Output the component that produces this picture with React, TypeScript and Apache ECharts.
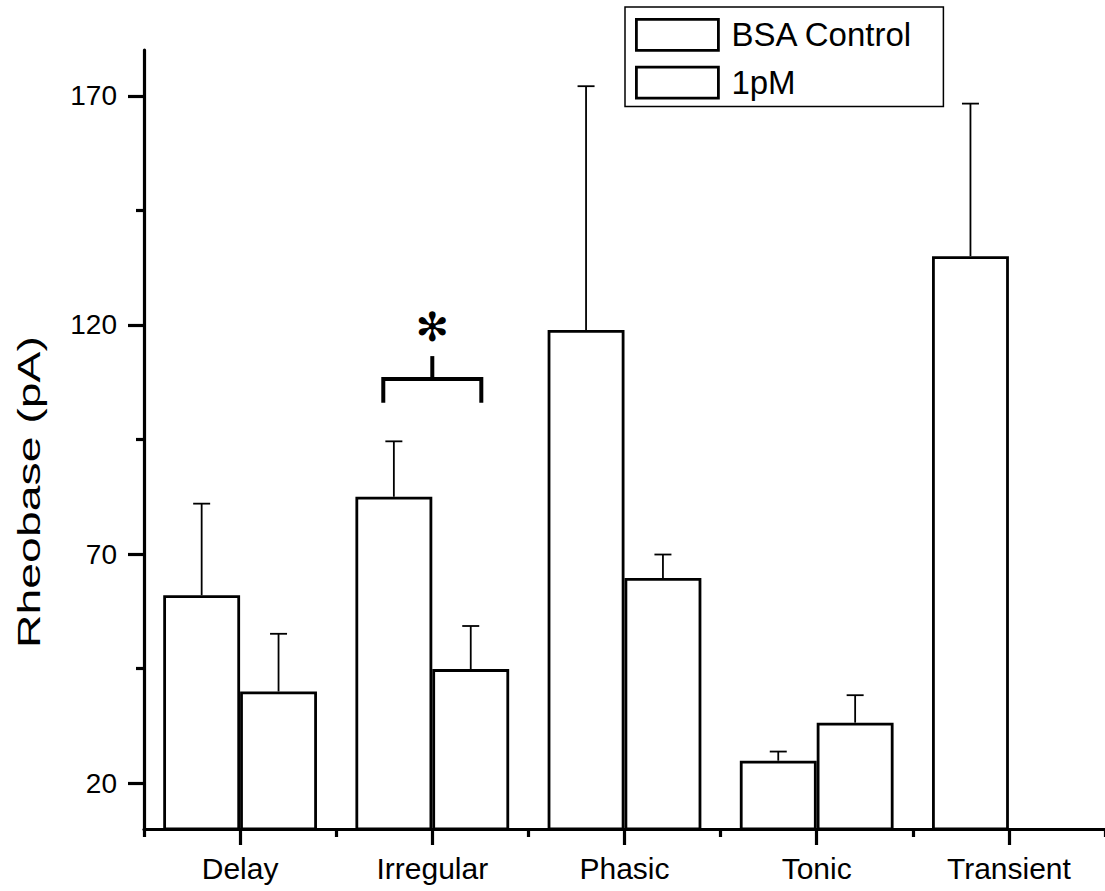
import React, { useEffect, useRef } from "react";
import * as echarts from "echarts";

// Firing-pattern categories and rheobase values (mean and upper SEM)
const categories = ["Delay", "Irregular", "Phasic", "Tonic", "Transient"];
const controlMean = [61.0, 82.5, 118.9, 24.9, 135.0];
const controlErr = [20.0, 12.1, 53.2, 2.0, 33.3];
const pmMean: (number | null)[] = [40.0, 44.9, 64.8, 33.2, null];
const pmErr: (number | null)[] = [12.6, 9.4, 5.1, 6.0, null];

// Axis ticks
const yMajorTicks = [20, 70, 120, 170];
const yMinorTicks = [45, 95, 145];

// Significance bracket over Irregular: leg bottom, bracket bar, stem top, star
const sigCategory = 1;
const sigLevels = [103, 108.2, 113.2, 119.6];

const FONT = "'Liberation Sans', Arial, Helvetica, sans-serif";

function errorSeries(name: string, means: (number | null)[], errs: (number | null)[], offset: number) {
  const data: number[][] = [];
  means.forEach((m, i) => {
    const e = errs[i];
    if (m != null && e != null) data.push([i, m, m + e]);
  });
  return {
    type: "custom",
    name,
    xAxisIndex: 0,
    yAxisIndex: 0,
    z: 5,
    encode: { x: 0, y: [1, 2] },
    data,
    renderItem: (params: any, api: any) => {
      const band = api.size([1, 0])[0];
      const base = api.coord([api.value(0), api.value(1)]);
      const top = api.coord([api.value(0), api.value(2)]);
      const x = base[0] + offset * band;
      const style = { stroke: "#000", lineWidth: 1.8 };
      return {
        type: "group",
        children: [
          { type: "line", shape: { x1: x, y1: base[1], x2: x, y2: top[1] }, style },
          { type: "line", shape: { x1: x - 8.5, y1: top[1], x2: x + 8.5, y2: top[1] }, style },
        ],
      };
    },
  };
}

export default function App() {
  const ref = useRef<HTMLDivElement>(null);

  useEffect(() => {
    if (!ref.current) return;
    const chart = echarts.init(ref.current, null, { renderer: "svg" });

    const axisLineStyle = { color: "#000", width: 3.2 };

    chart.setOption({
      animation: false,
      backgroundColor: "#fff",
      grid: { left: 144, top: 50, width: 962, height: 779, containLabel: false },
      legend: {
        data: ["BSA Control", "1pM"],
        orient: "vertical",
        left: 625,
        top: 7,
        icon: "rect",
        itemWidth: 82,
        itemHeight: 31,
        itemGap: 14,
        padding: [11, 12, 7, 10],
        borderColor: "#000",
        borderWidth: 1.5,
        itemStyle: { borderWidth: 2.8, borderColor: "#000", color: "#fff" },
        textStyle: {
          fontSize: 33,
          color: "#000",
          fontFamily: FONT,
          lineHeight: 31,
          padding: [0, 0, 0, 8],
          width: 200,
        },
      },
      xAxis: [
        {
          type: "category",
          data: categories,
          position: "bottom",
          axisLine: { show: true, lineStyle: axisLineStyle },
          axisTick: { show: true, alignWithLabel: true, length: 16, lineStyle: axisLineStyle },
          axisLabel: { fontSize: 30, color: "#000", margin: 24, fontFamily: FONT },
          splitLine: { show: false },
        },
        {
          type: "category",
          data: categories,
          position: "bottom",
          axisLine: { show: false },
          axisTick: { show: true, length: 8, lineStyle: axisLineStyle },
          axisLabel: { show: false },
          splitLine: { show: false },
        },
      ],
      yAxis: [
        {
          type: "value",
          min: 10,
          max: 180,
          position: "left",
          axisLine: { show: true, lineStyle: axisLineStyle },
          axisTick: { show: true, length: 16, lineStyle: axisLineStyle, customValues: yMajorTicks },
          axisLabel: {
            customValues: yMajorTicks,
            fontSize: 28,
            color: "#000",
            margin: 27,
            fontFamily: FONT,
          },
          splitLine: { show: false },
        },
        {
          type: "value",
          min: 10,
          max: 180,
          position: "left",
          axisLine: { show: false },
          axisTick: { show: true, length: 8, lineStyle: axisLineStyle, customValues: yMinorTicks },
          axisLabel: { show: false },
          splitLine: { show: false },
        },
      ],
      graphic: [
        {
          type: "text",
          x: 29,
          y: 492,
          rotation: Math.PI / 2,
          scaleX: 1.45,
          style: {
            text: "Rheobase (pA)",
            fontSize: 32,
            fontFamily: FONT,
            fill: "#000",
            align: "center",
            verticalAlign: "middle",
          },
        },
      ],
      series: [
        {
          type: "bar",
          name: "BSA Control",
          xAxisIndex: 0,
          yAxisIndex: 0,
          data: controlMean,
          barGap: "0%",
          barCategoryGap: "20%",
          itemStyle: { color: "#fff", borderColor: "#000", borderWidth: 2.8 },
        },
        {
          type: "bar",
          name: "1pM",
          xAxisIndex: 0,
          yAxisIndex: 0,
          data: pmMean,
          barGap: "0%",
          barCategoryGap: "20%",
          itemStyle: { color: "#fff", borderColor: "#000", borderWidth: 2.8 },
        },
        errorSeries("BSA Control err", controlMean, controlErr, -0.2),
        errorSeries("1pM err", pmMean, pmErr, 0.2),
        {
          type: "custom",
          name: "significance",
          xAxisIndex: 0,
          yAxisIndex: 0,
          z: 6,
          encode: { x: 0, y: 1 },
          data: [[sigCategory, ...sigLevels]],
          renderItem: (params: any, api: any) => {
            const band = api.size([1, 0])[0];
            const c = api.value(0);
            const leg = api.coord([c, api.value(1)]);
            const bar = api.coord([c, api.value(2)]);
            const stem = api.coord([c, api.value(3)]);
            const star = api.coord([c, api.value(4)]);
            const cx = leg[0];
            const half = 0.255 * band;
            const style = { stroke: "#000", lineWidth: 4, lineCap: "butt" };
            return {
              type: "group",
              children: [
                { type: "polyline", shape: { points: [[cx - half, leg[1]], [cx - half, bar[1]], [cx + half, bar[1]], [cx + half, leg[1]]] }, style: { ...style, fill: null, lineJoin: "miter" } },
                { type: "line", shape: { x1: cx, y1: bar[1], x2: cx, y2: stem[1] }, style },
                {
                  type: "text",
                  x: cx,
                  y: star[1],
                  style: {
                    text: "✻",
                    fontSize: 40,
                    fontFamily: "'DejaVu Sans', sans-serif",
                    fill: "#000",
                    align: "center",
                    verticalAlign: "middle",
                  },
                },
              ],
            };
          },
        },
      ],
    });

    return () => chart.dispose();
  }, []);

  return (
    <div
      ref={ref}
      style={{ position: "absolute", left: 0, top: 0, width: 1105, height: 891, background: "#fff" }}
    />
  );
}
